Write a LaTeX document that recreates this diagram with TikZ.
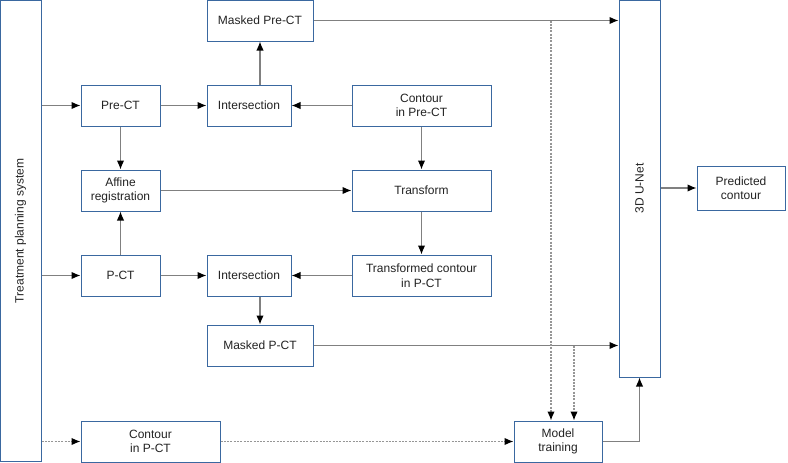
\documentclass[tikz,border=0pt]{standalone}
\usepackage{fontspec}
\setmainfont{Liberation Sans}
\usetikzlibrary{arrows.meta}
\definecolor{boxblue}{RGB}{58,104,160}
\definecolor{linegray}{RGB}{128,128,128}
\definecolor{dashgray}{RGB}{150,150,150}
\definecolor{txt}{RGB}{35,35,35}
\begin{document}
\begin{tikzpicture}[x=1pt,y=-1pt,
  box/.style={draw=boxblue,line width=1pt,fill=white,align=center,inner sep=2pt,
    text=txt,font=\fontsize{12}{14.5}\selectfont},
  conn/.style={draw=linegray,line width=1.3pt,-{Latex[length=9pt,width=7.5pt,color=black]}},
  dconn/.style={conn,draw=dashgray,dash pattern=on 2pt off 1.3pt},
  dline/.style={conn,draw=dashgray,dash pattern=on 2pt off 1.3pt}]
\useasboundingbox (0,0) rectangle (788,463);
% nodes
\node[box,minimum width=41pt,minimum height=461pt] (tps) at (20.5,231) {\rotatebox{90}{Treatment planning system}};
\node[box,minimum width=79pt,minimum height=41pt] (pre) at (120.5,105.5) {Pre-CT};
\node[box,minimum width=79pt,minimum height=41pt] (aff) at (120.5,190.5) {Affine\\registration};
\node[box,minimum width=79pt,minimum height=41pt] (pct) at (120.5,275.5) {P-CT};
\node[box,minimum width=139pt,minimum height=41pt] (cpct) at (150.5,441.5) {Contour\\in P-CT};
\node[box,minimum width=106pt,minimum height=41pt] (mpre) at (260,20.5) {Masked Pre-CT};
\node[box,minimum width=84pt,minimum height=41pt] (int1) at (249,105.5) {Intersection};
\node[box,minimum width=139pt,minimum height=41pt] (cpre) at (421.5,105.5) {Contour\\in Pre-CT};
\node[box,minimum width=139pt,minimum height=41pt] (trf) at (421.5,190.5) {Transform};
\node[box,minimum width=139pt,minimum height=41pt] (tc) at (421.5,275.5) {Transformed contour\\in P-CT};
\node[box,minimum width=84pt,minimum height=41pt] (int2) at (249,275.5) {Intersection};
\node[box,minimum width=106pt,minimum height=41pt] (mpct) at (260,345.5) {Masked P-CT};
\node[box,minimum width=41pt,minimum height=377pt] (unet) at (639.5,188.5) {\rotatebox{90}{3D U-Net}};
\node[box,minimum width=88pt,minimum height=44pt] (pc) at (741,188) {Predicted\\contour};
\node[box,minimum width=88pt,minimum height=41pt] (mt) at (558,441.5) {Model\\training};
\coordinate (d1) at (551,20.5);
\coordinate (d2) at (574,345.5);
% connectors
\draw[conn] (pre.west -| tps.east) -- (pre.west);
\draw[conn] (pct.west -| tps.east) -- (pct.west);
\draw[dconn] (cpct.west -| tps.east) -- (cpct.west);
\draw[conn] (pre) -- (int1);
\draw[conn] (cpre) -- (int1);
\draw[conn] (int1.north -| mpre.south) -- (mpre.south);
\draw[conn] (mpre.east) -- (mpre.east -| unet.west);
\draw[conn] (pre) -- (aff);
\draw[conn] (pct) -- (aff);
\draw[conn] (aff) -- (trf);
\draw[conn] (cpre) -- (trf);
\draw[conn] (trf) -- (tc);
\draw[conn] (pct) -- (int2);
\draw[conn] (tc) -- (int2);
\draw[conn] (int2.south -| mpct.north) -- (mpct.north);
\draw[conn] (mpct.east) -- (mpct.east -| unet.west);
\draw[conn] (pc.west -| unet.east) -- (pc.west);
\draw[dconn] (cpct) -- (mt);
\draw[conn] (mt.east) -| (unet.south);
\draw[dline] (d1) -- (d1 |- mt.north);
\draw[dline] (d2) -- (d2 |- mt.north);
\end{tikzpicture}
\end{document}
